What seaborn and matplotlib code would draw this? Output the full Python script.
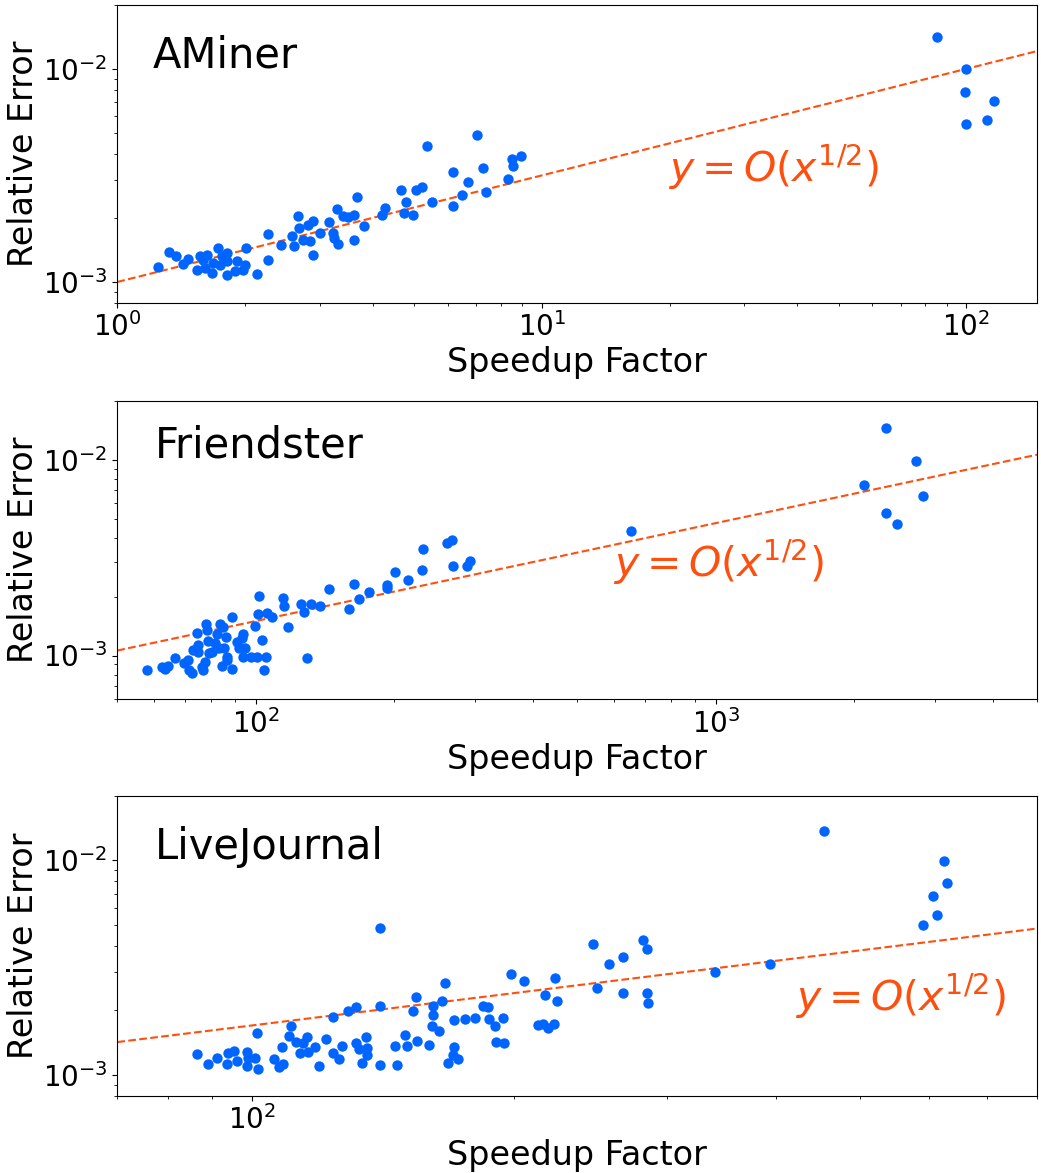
import numpy as np
import pandas as pd
import matplotlib
matplotlib.use("Agg")
import matplotlib.pyplot as plt
from matplotlib.ticker import NullFormatter
import seaborn as sns

# ---------------- data ----------------
dataset_names = ["AMiner", "Friendster", "LiveJournal"]

aminer_speedup = [1.249, 1.324, 1.375, 1.426, 1.470, 1.538, 1.566, 1.595, 1.624, 1.610,
                  1.669, 1.684, 1.730, 1.746, 1.762, 1.810, 1.810, 1.810, 1.894, 1.911,
                  1.981, 2.000, 2.007, 2.130, 2.269, 2.269, 2.427, 2.575, 2.609, 2.671,
                  2.685, 2.744, 2.819, 2.845, 2.897, 2.897, 3.004, 3.160, 3.228, 3.246,
                  3.299, 3.317, 3.409, 3.503, 3.612, 3.612, 3.664, 3.820, 4.197, 4.274,
                  4.653, 4.738, 4.790, 4.984, 5.057, 5.215, 5.358, 5.505, 6.170, 6.192,
                  6.477, 6.716, 7.027, 7.259, 7.392, 8.345, 8.528, 8.535, 8.938,
                  85.3, 100.0, 99.4, 116.1, 99.6, 111.8]
aminer_error = [0.001171, 0.001377, 0.001319, 0.001218, 0.001281, 0.001142, 0.001319, 0.001272, 0.001343, 0.001163,
                0.001102, 0.001227, 0.001443, 0.001205, 0.001319, 0.001367, 0.001249, 0.001082, 0.001122, 0.001249,
                0.001142, 0.001205, 0.001443, 0.001090, 0.001679, 0.001263, 0.001485, 0.001637, 0.001469, 0.002031,
                0.001791, 0.001579, 0.001857, 0.001551, 0.001923, 0.001333, 0.001697, 0.001903, 0.001697, 0.001608,
                0.002198, 0.001512, 0.002046, 0.002017, 0.002068, 0.001568, 0.002502, 0.001823, 0.002068, 0.002222,
                0.002689, 0.002106, 0.002371, 0.002068, 0.002709, 0.002788, 0.004355, 0.002371, 0.003279, 0.002279,
                0.002547, 0.002932, 0.004905, 0.003423, 0.002632, 0.003050, 0.003772, 0.003510, 0.003882,
                0.01408, 0.01000, 0.007825, 0.007100, 0.005500, 0.005770]

friendster_speedup = [57.9, 62.4, 63.5, 64.5, 66.7, 69.8, 71.3, 71.7, 72.5, 72.9,
                      74.4, 74.7, 75.0, 76.3, 76.9, 77.6, 77.9, 78.2, 78.6, 79.3,
                      80.2, 81.5, 82.2, 83.3, 83.8, 84.3, 85.0, 85.3, 86.1, 86.4,
                      86.7, 88.6, 88.9, 90.9, 92.1, 93.2, 93.6, 93.9, 94.7, 97.5,
                      99.6, 100.8, 101.3, 101.8, 103.1, 104.4, 105.2, 105.6, 108.6, 114.8,
                      115.3, 117.3, 125.4, 127.3, 129.4, 131.6, 137.9, 144.5, 159.4, 163.5,
                      167.9, 176.6, 192.5, 192.5, 200.8, 214.6, 229.8, 231.4, 260.0, 266.6,
                      268.8, 287.3, 292.2, 654.0, 2344, 2720, 2101, 2825, 2344, 2474]
friendster_error = [0.000843, 0.000877, 0.000850, 0.000887, 0.000975, 0.000912, 0.000948, 0.000843, 0.000811, 0.001067,
                    0.001298, 0.001131, 0.001038, 0.000877, 0.000843, 0.000930, 0.001448, 0.001349, 0.001190, 0.001026,
                    0.001046, 0.001154, 0.001288, 0.001088, 0.001448, 0.000887, 0.001393, 0.001088, 0.001248, 0.000986,
                    0.000948, 0.001566, 0.000853, 0.001176, 0.001088, 0.001224, 0.000979, 0.001288, 0.001088, 0.000979,
                    0.001420, 0.000979, 0.001629, 0.002020, 0.001200, 0.000843, 0.000979, 0.001642, 0.001578, 0.001973,
                    0.001797, 0.001403, 0.001824, 0.001661, 0.000967, 0.001824, 0.001789, 0.002177, 0.001721, 0.002308,
                    0.001943, 0.002101, 0.002203, 0.002290, 0.002658, 0.002429, 0.002731, 0.003483, 0.003767, 0.003888,
                    0.002874, 0.002874, 0.003036, 0.004320, 0.01456, 0.00984, 0.00742, 0.00652, 0.00536, 0.00469]

livejournal_speedup = [86.4, 89.1, 91.1, 93.5, 93.9, 95.3, 96.0, 98.8, 98.8, 99.0,
                       100.8, 101.4, 101.5, 106.1, 107.5, 108.2, 108.6, 110.4, 110.9, 112.3,
                       113.6, 114.4, 115.6, 115.9, 118.1, 119.4, 121.5, 123.8, 124.0, 125.9,
                       127.0, 129.1, 131.6, 131.7, 132.6, 133.7, 135.2, 135.5, 135.5, 140.3,
                       140.3, 140.3, 145.9, 146.9, 149.9, 150.6, 153.0, 154.2, 154.9, 159.9,
                       161.2, 161.4, 161.6, 164.2, 165.2, 166.7, 168.2, 170.4, 170.9, 170.9,
                       172.7, 175.8, 180.5, 184.2, 187.0, 187.3, 190.3, 190.8, 194.3, 194.9,
                       198.6, 205.5, 213.5, 216.0, 217.3, 218.8, 222.7, 223.1, 224.1, 246.9,
                       249.1, 257.3, 267.3, 267.3, 281.4, 284.3, 284.9, 285.6, 340.8, 393.9,
                       454.8, 625.4, 629.4, 607.5, 613.0, 590.6]
livejournal_error = [0.001247, 0.001124, 0.001203, 0.001120, 0.001260, 0.001297, 0.001165, 0.001283, 0.001100, 0.001194,
                     0.001194, 0.001562, 0.001065, 0.001190, 0.001085, 0.001349, 0.001124, 0.001518, 0.001696, 0.001418,
                     0.001269, 0.001413, 0.001496, 0.001274, 0.001344, 0.001104, 0.001465, 0.001868, 0.001260, 0.001190,
                     0.001368, 0.001992, 0.002080, 0.001403, 0.001320, 0.001132, 0.001496, 0.001329, 0.001238, 0.004855,
                     0.002095, 0.001116, 0.001368, 0.001116, 0.001535, 0.001368, 0.001992, 0.002298, 0.001439, 0.001378,
                     0.001696, 0.001902, 0.002095, 0.001602, 0.002210, 0.002671, 0.001140, 0.001238, 0.001802, 0.001344,
                     0.001182, 0.001816, 0.001835, 0.002095, 0.002065, 0.001816, 0.001690, 0.001428, 0.001848, 0.001413,
                     0.002942, 0.002748, 0.001707, 0.001726, 0.002349, 0.001648, 0.001720, 0.002818, 0.002218, 0.004074,
                     0.002541, 0.003287, 0.003531, 0.002409, 0.004252, 0.003847, 0.002409, 0.002156, 0.003016, 0.003287,
                     0.01369, 0.00996, 0.00786, 0.00684, 0.00554, 0.00501]

# reference line y = c * x^(1/2) for each panel
fit_coef = [1.0e-3, 1.5e-4, 1.7e-4]
x_limits = [(1.0, 147.0), (50.0, 5000.0), (70.0, 800.0)]
y_limits = [(8e-4, 2e-2), (6e-4, 2e-2), (8e-4, 2e-2)]

# ---------------- layout / style ----------------
BLUE = "#0064ff"
ORANGE = "#ff4f0f"
name_pos = [(0.038, 0.83), (0.041, 0.851), (0.041, 0.829)]
formula_pos = [(0.599, 0.455), (0.539, 0.459), (0.737, 0.332)]
axes_rects = [[0.1127, 0.742, 0.8838, 0.254],
              [0.1127, 0.4041, 0.8838, 0.2543],
              [0.1127, 0.0659, 0.8838, 0.2558]]

sns.set_theme(style="ticks")
plt.rcParams.update({
    "font.family": ["DejaVu Sans"],
    "mathtext.fontset": "dejavusans",
    "axes.edgecolor": "black",
    "axes.linewidth": 0.8,
    "axes.labelcolor": "black",
    "text.color": "black",
    "xtick.color": "black",
    "ytick.color": "black",
    "xtick.major.size": 3.5,
    "ytick.major.size": 3.5,
    "xtick.minor.size": 2.0,
    "ytick.minor.size": 2.0,
    "xtick.major.width": 0.8,
    "ytick.major.width": 0.8,
    "xtick.minor.width": 0.6,
    "ytick.minor.width": 0.6,
    "xtick.direction": "out",
    "ytick.direction": "out",
    "axes.grid": False,
})

fig = plt.figure(figsize=(10.41, 11.73), dpi=100)

all_speedup = [aminer_speedup, friendster_speedup, livejournal_speedup]
all_error = [aminer_error, friendster_error, livejournal_error]

for i, name in enumerate(dataset_names):
    ax = fig.add_axes(axes_rects[i])
    ax.set_xscale("log")
    ax.set_yscale("log")
    df = pd.DataFrame({"speedup": all_speedup[i], "error": all_error[i]})
    sns.scatterplot(data=df, x="speedup", y="error", ax=ax, color=BLUE,
                    s=56, linewidth=0, zorder=3)
    xs = np.geomspace(x_limits[i][0], x_limits[i][1], 60)
    fit_df = pd.DataFrame({"x": xs, "y": fit_coef[i] * np.sqrt(xs)})
    sns.lineplot(data=fit_df, x="x", y="y", ax=ax, color=ORANGE,
                 linestyle="--", linewidth=1.5, zorder=2)
    ax.set_xlim(*x_limits[i])
    ax.set_ylim(*y_limits[i])
    ax.xaxis.set_minor_formatter(NullFormatter())
    ax.yaxis.set_minor_formatter(NullFormatter())
    ax.set_xlabel("Speedup Factor", fontsize=24, labelpad=3)
    ax.set_ylabel("Relative Error", fontsize=24, labelpad=2)
    ax.tick_params(axis="both", which="major", labelsize=20)
    for s in ax.spines.values():
        s.set_visible(True)
        s.set_color("black")
    ax.text(name_pos[i][0], name_pos[i][1], name, transform=ax.transAxes,
            fontsize=30, va="center", ha="left")
    ax.text(formula_pos[i][0], formula_pos[i][1], r"$y = O(x^{1/2})$",
            transform=ax.transAxes, fontsize=29.5, va="center", ha="left",
            color=ORANGE)

fig.savefig("out.png", dpi=100)
